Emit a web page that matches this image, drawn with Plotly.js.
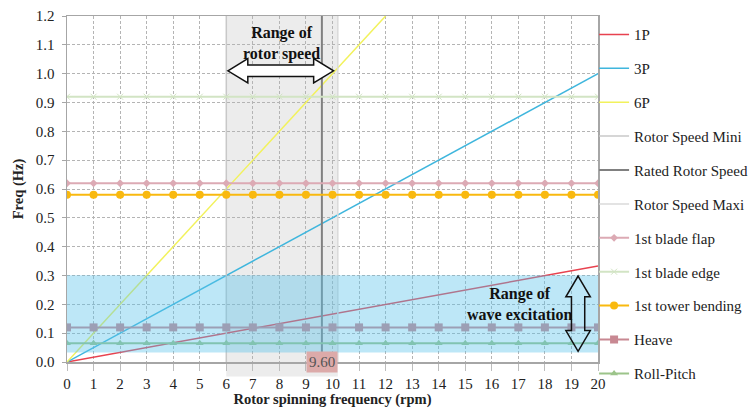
<!DOCTYPE html>
<html>
<head>
<meta charset="utf-8">
<script src="https://cdn.plot.ly/plotly-3.0.1.min.js"></script>
<style>html,body{margin:0;padding:0;background:#fff;}#chart{width:752px;height:413px;}</style>
</head>
<body>
<div id="chart"></div>
<script>
// ---- data ----
const rpm = [0,1,2,3,4,5,6,7,8,9,10,11,12,13,14,15,16,17,18,19,20];
const p1X = [0, 20];      const p1Y = [0, 0.333];
const p3X = [0, 20];      const p3Y = [0, 1.0];
const p6X = [0, 12];      const p6Y = [0, 1.2];
const rotorMiniX = [6, 6];       const rotorMiniY = [0, 1.2];
const ratedX = [9.6, 9.6];       const ratedY = [0, 1.2];
const rotorMaxiX = [10.2, 10.2]; const rotorMaxiY = [0, 1.2];
const bladeFlap = [0.62,0.62,0.62,0.62,0.62,0.62,0.62,0.62,0.62,0.62,0.62,0.62,0.62,0.62,0.62,0.62,0.62,0.62,0.62,0.62,0.62];
const bladeEdge = [0.92,0.92,0.92,0.92,0.92,0.92,0.92,0.92,0.92,0.92,0.92,0.92,0.92,0.92,0.92,0.92,0.92,0.92,0.92,0.92,0.92];
const towerBending = [0.58,0.58,0.58,0.58,0.58,0.58,0.58,0.58,0.58,0.58,0.58,0.58,0.58,0.58,0.58,0.58,0.58,0.58,0.58,0.58,0.58];
const heave = [0.12,0.12,0.12,0.12,0.12,0.12,0.12,0.12,0.12,0.12,0.12,0.12,0.12,0.12,0.12,0.12,0.12,0.12,0.12,0.12,0.12];
const rollPitch = [0.065,0.065,0.065,0.065,0.065,0.065,0.065,0.065,0.065,0.065,0.065,0.065,0.065,0.065,0.065,0.065,0.065,0.065,0.065,0.065,0.065];
const rotorRange = [6, 10.2];
const waveRange = [0.033, 0.301];
const ratedLabel = "9.60";
const xTicks = rpm;
const yTicks = [0,0.1,0.2,0.3,0.4,0.5,0.6,0.7,0.8,0.9,1.0,1.1,1.2];

const serif = "Liberation Serif";

function line(name, x, y, color, width) {
  return {type:'scatter', mode:'lines', name:name, legendgroup:name, x:x, y:y,
    line:{color:color, width:width}, hoverinfo:'skip'};
}
function markLine(name, y, color, symbol, size, width) {
  return {type:'scatter', mode:'lines+markers', name:name, legendgroup:name, x:rpm, y:y,
    line:{color:color, width:width}, marker:{symbol:symbol, size:size, color:color},
    hoverinfo:'skip'};
}

const traces = [
  line('1P', p1X, p1Y, '#e8424f', 1.5),
  line('3P', p3X, p3Y, '#3fb6dd', 1.5),
  line('6P', p6X, p6Y, '#f2f25c', 1.5),
  line('Rotor Speed Mini', rotorMiniX, rotorMiniY, '#c8c8c8', 1.5),
  line('Rated Rotor Speed', ratedX, ratedY, '#808080', 2),
  line('Rotor Speed Maxi', rotorMaxiX, rotorMaxiY, '#dadada', 1.5),
  markLine('1st blade flap', bladeFlap, '#dcaab4', 'diamond', 6, 2),
  markLine('1st blade edge', bladeEdge, '#d2e4c4', 'x-thin-open', 6, 2),
  markLine('1st tower bending', towerBending, '#f9b90f', 'circle', 8, 2),
  markLine('Heave', heave, '#c88892', 'square', 8, 2),
  markLine('Roll-Pitch', rollPitch, '#9cc48a', 'triangle-up', 7, 2)
];
traces[7].marker.line = {color:'#c4dab4', width:1};

const hArrow = (function(){
  const x0 = 6.06, x1 = 10.04, yc = 1.01, hl = 0.75, hh = 0.042, sh = 0.02;
  return `M${x0},${yc} L${x0+hl},${yc+hh} L${x0+hl},${yc+sh} L${x1-hl},${yc+sh} L${x1-hl},${yc+hh} L${x1},${yc} L${x1-hl},${yc-hh} L${x1-hl},${yc-sh} L${x0+hl},${yc-sh} L${x0+hl},${yc-hh} Z`;
})();
const vArrow = (function(){
  const xc = 19.25, y1 = 0.298, y0 = 0.037, hl = 0.072, hw = 0.46, sw = 0.25;
  return `M${xc},${y1} L${xc+hw},${y1-hl} L${xc+sw},${y1-hl} L${xc+sw},${y0+hl} L${xc+hw},${y0+hl} L${xc},${y0} L${xc-hw},${y0+hl} L${xc-sw},${y0+hl} L${xc-sw},${y1-hl} L${xc-hw},${y1-hl} Z`;
})();

const layout = {
  width:752, height:413,
  margin:{l:67, r:154, t:16, b:51, autoexpand:false},
  paper_bgcolor:'#ffffff', plot_bgcolor:'#ffffff',
  font:{family:serif, size:15, color:'#222'},
  showlegend:true,
  legend:{xref:'container', yref:'container', x:0.790, xanchor:'left', y:0.956, yanchor:'top',
    font:{family:serif, size:15, color:'#222'},
    itemwidth:30, tracegroupgap:11.4, bgcolor:'rgba(0,0,0,0)', traceorder:'grouped', maxheight:1},
  xaxis:{range:[0,20], tickvals:xTicks, ticktext:xTicks.map(String), showgrid:true, gridcolor:'#b4b4b4', griddash:'3px,2px',
    gridwidth:1, zeroline:false, showline:true, linecolor:'#a6a6a6', linewidth:1.5, mirror:true,
    ticks:'outside', ticklen:7, tickcolor:'#bdbdbd', tickwidth:1, tickfont:{family:serif, size:15, color:'#222'},
    title:{text:'<b>Rotor spinning frequency (rpm)</b>', font:{family:serif, size:14.5, color:'#222'}, standoff:2}},
  yaxis:{range:[0,1.2], tickvals:yTicks, ticktext:yTicks.map(v=>v.toFixed(1)), showgrid:true, gridcolor:'#b4b4b4', griddash:'3px,2px',
    gridwidth:1, zeroline:false, showline:true, linecolor:'#a6a6a6', linewidth:1.5, mirror:true,
    ticks:'outside', ticklen:4, tickcolor:'#a6a6a6', ticklabelstandoff:4, tickfont:{family:serif, size:15, color:'#222'},
    title:{text:'<b>Freq (Hz)</b>', font:{family:serif, size:14.5, color:'#222'}, standoff:8}},
  shapes:[
    {type:'rect', xref:'x', yref:'paper', x0:rotorRange[0], x1:rotorRange[1], y0:-0.042, y1:1, fillcolor:'#ececec', line:{width:0}, layer:'below'},
    {type:'rect', xref:'x', yref:'y', x0:0, x1:20, y0:waveRange[0], y1:waveRange[1], fillcolor:'rgba(90,195,235,0.4)', line:{width:0}, layer:'above'},
    {type:'path', xref:'x', yref:'y', path:hArrow, fillcolor:'#ffffff', line:{color:'#111', width:1.5}, layer:'above'},
    {type:'path', xref:'x', yref:'y', path:vArrow, fillcolor:'rgba(0,0,0,0)', line:{color:'#111', width:1.5}, layer:'above'}
  ],
  annotations:[
    {x:8.09, y:1.105, xref:'x', yref:'y', text:'<b>Range of<br>rotor speed</b>', showarrow:false,
      font:{family:serif, size:16, color:'#111'}, align:'center'},
    {x:17.05, y:0.2, xref:'x', yref:'y', text:'<b>Range of<br>wave excitation</b>', showarrow:false,
      font:{family:serif, size:16, color:'#111'}, align:'center'},
    {x:ratedX[0], y:0, xref:'x', yref:'y', text:ratedLabel, showarrow:false, bgcolor:'#dcaaa9',
      font:{family:serif, size:15, color:'#555'}, borderpad:2, yanchor:'middle'}
  ]
};

Plotly.newPlot('chart', traces, layout, {displayModeBar:false, staticPlot:true});
</script>
</body>
</html>
